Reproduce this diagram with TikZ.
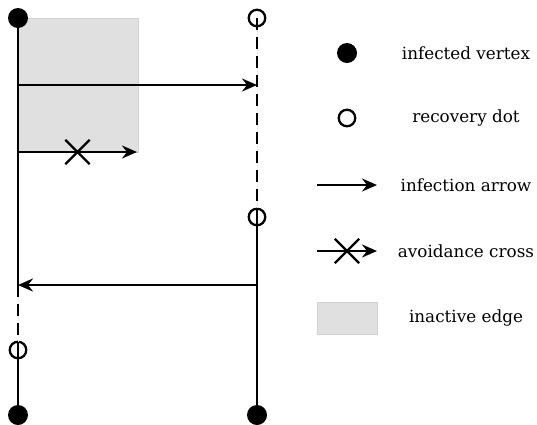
\documentclass[tikz,border=0pt]{standalone}
\usepackage{fontspec}
\setmainfont{DejaVu Serif}
\usetikzlibrary{arrows.meta,positioning,shapes.misc}
\definecolor{edgegrey}{HTML}{E0E0E0}
\definecolor{edgeline}{HTML}{D2D2D2}
\definecolor{ghost}{HTML}{EEEEEE}
\tikzset{
  infected/.style={circle,fill=black,minimum size=20pt,inner sep=0pt},
  recovery/.style={circle,draw=black,line width=2.3pt,minimum size=16.5pt,inner sep=0pt},
  life/.style={line width=2.4pt},
  idle/.style={line width=2.4pt,dash pattern=on 12pt off 7pt,
               preaction={draw=ghost,line width=1pt,solid}},
  infarr/.style={-{Stealth[length=15pt,width=13pt,inset=5pt]},line width=2.4pt},
  avoid/.style={cross out,draw,line width=2.3pt,minimum size=22pt,inner sep=0pt},
  inactive/.style={fill=edgegrey,draw=edgeline,line width=1pt},
  txt/.style={font=\fontsize{16.8}{20}\selectfont},
}
\begin{document}
\begin{tikzpicture}[x=1pt,y=-1pt]
  \useasboundingbox (0,0) rectangle (537,424);
  \draw[inactive] (18,18) rectangle (138,152);
  \node[infected] (a0) at (18,18) {};
  \coordinate (a1) at (18,285);
  \node[recovery] (a2) at (18,350) {};
  \node[infected] (a3) at (18,415) {};
  \node[recovery] (b0) at (257,18) {};
  \coordinate (b1) at (257,85);
  \node[recovery] (b2) at (257,217) {};
  \node[infected] (b3) at (257,415) {};
  \coordinate (a4) at (18,85);
  \coordinate (a5) at (18,152);
  \coordinate (c1) at (137,152);
  \coordinate (b4) at (257,285);
  \draw[life] (a0.center) -- (a1);
  \draw[idle] (a1) -- (a2.center);
  \draw[life] (a2.center) -- (a3.center);
  \draw[idle] (b0.center) -- (b2.center);
  \draw[life] (b2.center) -- (b3.center);
  \draw[infarr] (a4) -- (b1);
  \draw[infarr] (a5) -- node[avoid]{} (c1);
  \draw[infarr] (b4) -- (a1);
  \node[infected] (k1) at (347,53) {};
  \node[recovery] (k2) at (347,118) {};
  \coordinate (k3a) at (317,185);
  \coordinate (k3b) at (377,185);
  \draw[infarr] (k3a) -- (k3b);
  \coordinate (k4a) at (317,251);
  \coordinate (k4b) at (377,251);
  \draw[infarr] (k4a) -- node[avoid]{} (k4b);
  \node[inactive,minimum width=60pt,minimum height=32pt] (k5) at (347,318) {};
  \node[txt] (t1) at (466,53) {infected vertex};
  \node[txt] (t2) at (466,118) {recovery dot};
  \node[txt] (t3) at (466,185) {infection arrow};
  \node[txt] (t4) at (466,251) {avoidance cross};
  \node[txt] (t5) at (466,318) {inactive edge};
\end{tikzpicture}
\end{document}
